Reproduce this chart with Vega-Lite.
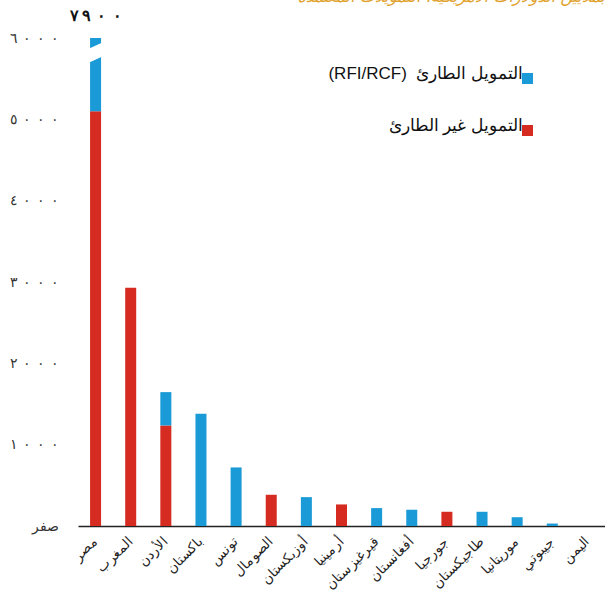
{
  "$schema": "https://vega.github.io/schema/vega-lite/v6.json",
  "width": 527,
  "height": 488,
  "autosize": {"type": "none"},
  "padding": {"left": 78, "top": 38, "right": 0, "bottom": 66},
  "background": "white",
  "title": {
    "text": "بملايين الدولارات الأمريكية، التمويلات المعتمدة",
    "anchor": "end",
    "orient": "top",
    "frame": "group",
    "offset": 3,
    "dy": 13,
    "baseline": "alphabetic",
    "color": "#E0A22E",
    "fontSize": 16,
    "fontStyle": "italic",
    "fontWeight": "normal",
    "font": "DejaVu Sans"
  },
  "config": {"view": {"stroke": null}},
  "data": {
    "values": [
      {"country": "مصر", "series": "التمويل غير الطارئ", "value": 5100},
      {"country": "مصر", "series": "(RFI/RCF)\u00a0\u00a0التمويل الطارئ", "value": 2800},
      {"country": "المغرب", "series": "التمويل غير الطارئ", "value": 2930},
      {"country": "الأردن", "series": "التمويل غير الطارئ", "value": 1236},
      {"country": "الأردن", "series": "(RFI/RCF)\u00a0\u00a0التمويل الطارئ", "value": 410},
      {"country": "باكستان", "series": "(RFI/RCF)\u00a0\u00a0التمويل الطارئ", "value": 1380},
      {"country": "تونس", "series": "(RFI/RCF)\u00a0\u00a0التمويل الطارئ", "value": 720},
      {"country": "الصومال", "series": "التمويل غير الطارئ", "value": 384},
      {"country": "أوزبكستان", "series": "(RFI/RCF)\u00a0\u00a0التمويل الطارئ", "value": 355},
      {"country": "أرمينيا", "series": "التمويل غير الطارئ", "value": 265},
      {"country": "قيرغيزستان", "series": "(RFI/RCF)\u00a0\u00a0التمويل الطارئ", "value": 220},
      {"country": "أفغانستان", "series": "(RFI/RCF)\u00a0\u00a0التمويل الطارئ", "value": 200},
      {"country": "جورجيا", "series": "التمويل غير الطارئ", "value": 175},
      {"country": "طاجيكستان", "series": "(RFI/RCF)\u00a0\u00a0التمويل الطارئ", "value": 175},
      {"country": "موريتانيا", "series": "(RFI/RCF)\u00a0\u00a0التمويل الطارئ", "value": 108},
      {"country": "جيبوتي", "series": "(RFI/RCF)\u00a0\u00a0التمويل الطارئ", "value": 30},
      {"country": "اليمن", "series": "(RFI/RCF)\u00a0\u00a0التمويل الطارئ", "value": 0}
    ]
  },
  "layer": [
    {
      "mark": {"type": "bar", "width": 11, "clip": true},
      "encoding": {
        "x": {
          "field": "country",
          "type": "nominal",
          "scale": {
            "domain": ["مصر", "المغرب", "الأردن", "باكستان", "تونس", "الصومال", "أوزبكستان", "أرمينيا", "قيرغيزستان", "أفغانستان", "جورجيا", "طاجيكستان", "موريتانيا", "جيبوتي", "اليمن"],
            "paddingInner": 0,
            "paddingOuter": 0
          },
          "axis": {
            "title": null,
            "labelAngle": -45,
            "labelAlign": "right",
            "labelBaseline": "middle",
            "ticks": false,
            "domainColor": "#222222",
            "domainWidth": 1.5,
            "labelFontSize": 13.5,
            "labelFont": "Liberation Sans",
            "labelColor": "#222222",
            "labelPadding": 13
          }
        },
        "y": {
          "field": "value",
          "type": "quantitative",
          "stack": "zero",
          "scale": {"domain": [0, 6000], "nice": false},
          "axis": {
            "title": null,
            "values": [0, 1000, 2000, 3000, 4000, 5000, 6000],
            "grid": false,
            "domain": false,
            "ticks": false,
            "labelPadding": 20,
            "labelFontSize": 14,
            "labelFont": "Liberation Sans",
            "labelColor": "#333333",
            "labelExpr": "datum.value == 0 ? 'صفر' : ('\u200e' + ['', '١', '٢', '٣', '٤', '٥', '٦'][datum.value / 1000] + '\u200e\u2009\u2009\u200e٠\u200e\u2009\u2009\u200e٠\u200e\u2009\u2009\u200e٠\u200e')"
          }
        },
        "color": {
          "field": "series",
          "type": "nominal",
          "scale": {
            "domain": ["(RFI/RCF)\u00a0\u00a0التمويل الطارئ", "التمويل غير الطارئ"],
            "range": ["#1A9AD6", "#D52B20"]
          },
          "legend": {
            "orient": "none",
            "legendX": 441,
            "legendY": 32,
            "title": null,
            "symbolType": "square",
            "symbolSize": 121,
            "symbolStrokeWidth": 0,
            "labelFontSize": 17,
            "labelFont": "Liberation Sans",
            "labelColor": "#111111",
            "labelAlign": "right",
            "labelBaseline": "alphabetic",
            "labelOffset": -13,
            "labelLimit": 0,
            "rowPadding": 32
          }
        },
        "order": {"field": "series", "sort": "descending"}
      }
    },
    {
      "data": {"values": [{"country": "مصر"}]},
      "mark": {
        "type": "point",
        "shape": "M-0.8,-0.34L0.8,-1.06L0.8,0.34L-0.8,1.06Z",
        "filled": true,
        "fill": "white",
        "opacity": 1,
        "strokeWidth": 0,
        "size": 400
      },
      "encoding": {
        "x": {"field": "country", "type": "nominal"},
        "y": {"datum": 5820, "type": "quantitative"}
      }
    },
    {
      "data": {"values": [{"country": "مصر", "label": "\u200e٧\u200e\u2009\u200e٩\u200e\u2009\u2009\u200e٠\u200e\u2009\u2009\u200e٠\u200e"}]},
      "mark": {
        "type": "text",
        "dy": -22,
        "fontSize": 16,
        "fontWeight": "bold",
        "font": "Liberation Sans",
        "color": "#111111"
      },
      "encoding": {
        "x": {"field": "country", "type": "nominal"},
        "y": {"datum": 6000, "type": "quantitative"},
        "text": {"field": "label"}
      }
    }
  ]
}
